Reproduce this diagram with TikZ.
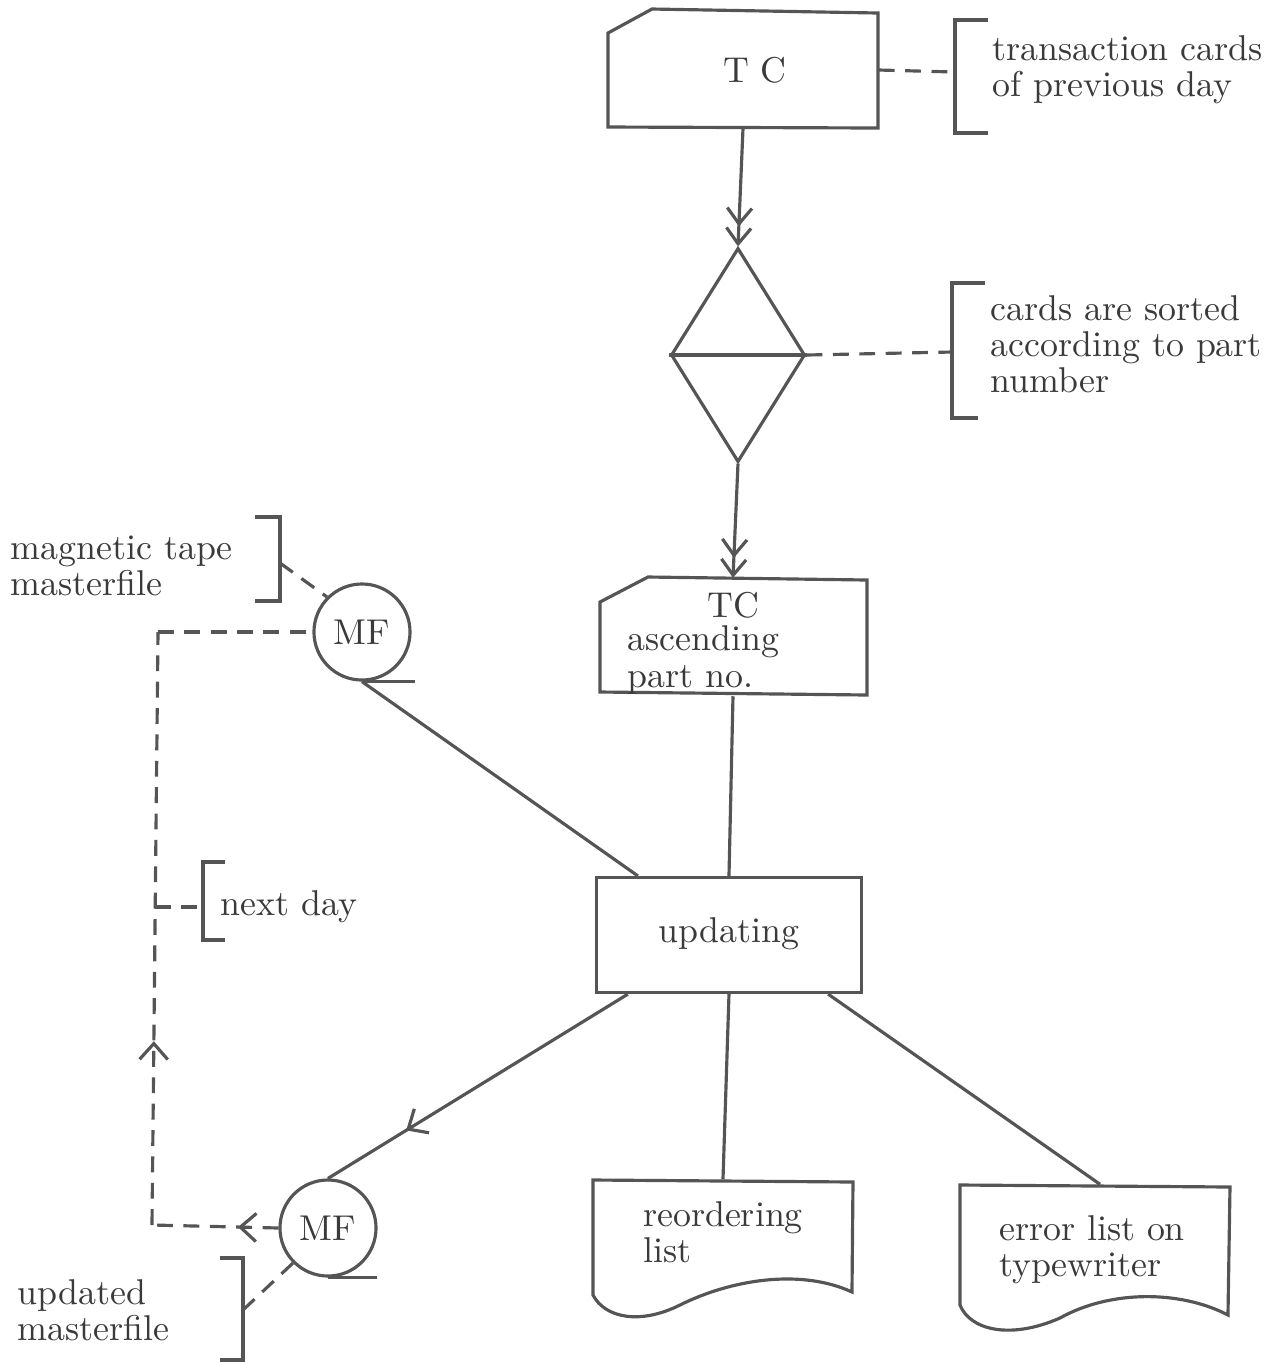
\documentclass[tikz,border=0pt]{standalone}
\usetikzlibrary{shapes.geometric,arrows.meta,decorations.markings}
\definecolor{ink}{HTML}{555555}
\definecolor{txt}{HTML}{3A3A3A}
\begin{document}
\begin{tikzpicture}[x=0.01cm,y=-0.01cm]

    \tikzset{
      line/.style={draw=ink, line width=0.9pt},
      dline/.style={line, dash pattern=on 4.5pt off 3pt},
      lbl/.style={text=txt, font=\fontsize{10.2pt}{10.3pt}\selectfont, align=left, inner sep=0pt},
      box/.style={lbl, align=center, minimum width=2.7cm, minimum height=1.16cm},
      tape/.style={lbl, draw=ink, line width=0.9pt, circle, minimum size=0.96cm},
      barbs/.style={-{Straight Barb[length=4.5pt,width=7pt,sep=0pt]Straight Barb[length=4.5pt,width=7pt]}},
      midarrow/.style={postaction={decorate}, decoration={markings,
        mark=at position #1 with {\arrow{Straight Barb[length=4.5pt,width=8pt]}}}},
    }
    \useasboundingbox (0,0) rectangle (1281,1362);

	% cards
	\node[box] (tc) at (743,70) {\hspace*{0.24cm}T C};
	\draw[line] (608,33) -- (652,9) -- (878,13) -- (878,128) -- (608,127) -- cycle;
	\node[box, minimum width=2.67cm, minimum height=1.17cm] (tctwo) at (733,637) {};
	\draw[line] (600,602) -- (648,577) -- (867,580) -- (867,695) -- (600,692) -- cycle;
	\node[lbl, anchor=center] (tctwo-a) at (733,605) {TC};
	\node[lbl, anchor=west] (tctwo-b) at (627,660) {ascending\\part no.};

	% sorting
	\node[diamond, line, minimum width=1.34cm, minimum height=2.14cm, inner sep=0pt] (sort) at (738,355) {};
	\draw[line] (sort.west) -- (sort.east);
	\draw[line, barbs] (tc.south) -- (sort.north);
	\draw[line, barbs] (sort.south) -- (tctwo.north);

	% update run
	\node[box, draw=ink, line width=0.9pt, minimum width=2.65cm, minimum height=1.15cm] (upd) at (729,935) {\raisebox{0.1cm}{updating}};
	\draw[line] (tctwo.south) -- (upd.north);

	% tapes
	\node[tape] (mft) at (362,632) {MF};
	\draw[line] (mft.south) -- ++(53,0);
	\node[tape] (mfb) at (328,1228) {MF};
	\draw[line] (mfb.south) -- ++(49,0);
	\draw[line] (mft.south) -- ([xshift=0.43cm]upd.north west);
	\draw[line, midarrow=0.74] ([xshift=0.33cm]upd.south west) -- (mfb.north);

	% next day loop
	\coordinate (fb-bot) at (152,1225);
	\coordinate (fb-top) at (158,632);
	\coordinate (fb-tick) at (155,907);
	\draw[dline, midarrow=0.32] (mfb.west) -- (fb-bot);
	\draw[dline, midarrow=0.31] (fb-bot) -- (fb-top);
	\draw[dline] (fb-top) -- (mft.west);

	% lists
	\node[box, align=left, minimum width=2.6cm, minimum height=1.04cm] (reord) at (723,1232) {reordering\\list};
	\draw[line] (593,1180) -- (853,1182) -- (852,1292)
	  .. controls (800,1268) and (730,1280) .. (680,1305)
	  .. controls (640,1325) and (605,1318) .. (593,1295) -- cycle;
	\node[box, align=left, minimum width=2.7cm, minimum height=1.3cm] (err) at (1092,1250) {error list on\\typewriter};
	\draw[line] (960,1185) -- (1230,1187) -- (1228,1315)
	  .. controls (1180,1290) and (1110,1290) .. (1060,1318)
	  .. controls (1010,1340) and (970,1330) .. (960,1305) -- cycle;
	\draw[line] (upd.south) -- (reord.north);
	\draw[line] ([xshift=-0.35cm]upd.south east) -- ([xshift=0.08cm]err.north);

	% comments
	\node[lbl, anchor=west] (note-tc) at (992,70) {transaction cards\\of previous day};
	\draw[line] (988,20) -- (955,20) -- (955,133) -- (988,133);
	\draw[dline] (tc.east) -- (955,72);
	\node[lbl, anchor=west] (note-sort) at (990,344) {cards are sorted\\according to part\\number};
	\draw[line] (985,283) -- (952,283) -- (952,418) -- (978,418);
	\draw[dline] (sort.east) -- (952,352);
	\node[lbl, anchor=west] (note-mft) at (10,566) {magnetic tape\\masterfile};
	\draw[line] (255,517) -- (280,517) -- (280,601) -- (255,601);
	\draw[dline] (280,563) -- (mft.135);
	\node[lbl, anchor=west] (note-day) at (220,907) {next day};
	\draw[line] (225,862) -- (203,862) -- (203,940) -- (225,940);
	\draw[dline] (fb-tick) -- (203,907);
	\node[lbl, anchor=west] (note-mfb) at (17,1310) {updated\\masterfile};
	\draw[line] (220,1258) -- (243,1258) -- (243,1360) -- (220,1360);
	\draw[dline] (243,1310) -- (mfb.225);

\end{tikzpicture}
\end{document}
